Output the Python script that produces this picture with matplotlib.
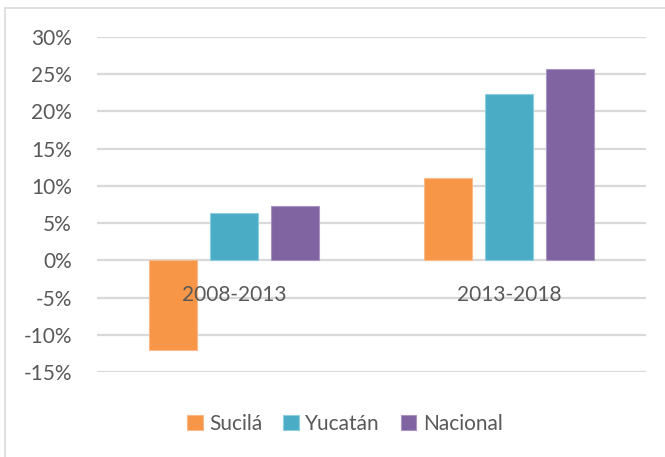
import numpy as np
import matplotlib.pyplot as plt
from matplotlib.patches import Rectangle
from matplotlib.ticker import MultipleLocator, FuncFormatter

periods = ['2008-2013', '2013-2018']
series = ['Sucilá', 'Yucatán', 'Nacional']
sucila = [-12.0, 11.0]
yucatan = [6.3, 22.4]
nacional = [7.3, 25.7]
colors = ['#F79646', '#4BACC6', '#8064A2']
edges = ['#FAB98A', '#8DCDDD', '#A995C2']

plt.rcParams['font.family'] = ['Lato', 'DejaVu Sans']
text_color = '#595959'

fig = plt.figure(figsize=(6.65, 4.57), dpi=100)
# light chart border (left and top edges visible)
fig.patches.append(Rectangle((5 / 665, -0.1), 1.2, 1 - 8 / 457 + 0.1,
                             transform=fig.transFigure, fill=False,
                             edgecolor='#D9D9D9', lw=1.2))

ax = fig.add_axes([97 / 665, 1 - 372 / 457, (646 - 97) / 665, (372 - 37) / 457])

x = np.arange(len(periods))
width = 0.175
step = 0.222
for i, (name, vals) in enumerate(zip(series, [sucila, yucatan, nacional])):
    ax.bar(x + (i - 1) * step, vals, width, color=colors[i], edgecolor=edges[i],
           linewidth=0.8, label=name, zorder=3)

ax.set_xlim(-0.5, 1.5)
ax.set_ylim(-15, 30)
ax.yaxis.set_major_locator(MultipleLocator(5))
ax.yaxis.set_major_formatter(FuncFormatter(lambda v, p: f'{v:.0f}%'))
ax.grid(axis='y', color='#D9D9D9', lw=1.6, zorder=0)
for s in ax.spines.values():
    s.set_visible(False)
ax.tick_params(axis='y', length=0, pad=18, labelsize=15, labelcolor=text_color)
ax.set_xticks([])

# period labels sit just under the zero line
for xi, lab in zip(x, periods):
    ax.text(xi, -4.7, lab, ha='center', va='center', fontsize=15, color=text_color, zorder=4)

ax.legend(loc='center', bbox_to_anchor=(345 / 665, 1 - 424 / 457),
          bbox_transform=fig.transFigure, ncol=3, frameon=False,
          fontsize=15, labelcolor=text_color, handlelength=0.75, handleheight=0.75,
          handletextpad=0.3, columnspacing=1.0)

fig.savefig('out.png', dpi=100)
